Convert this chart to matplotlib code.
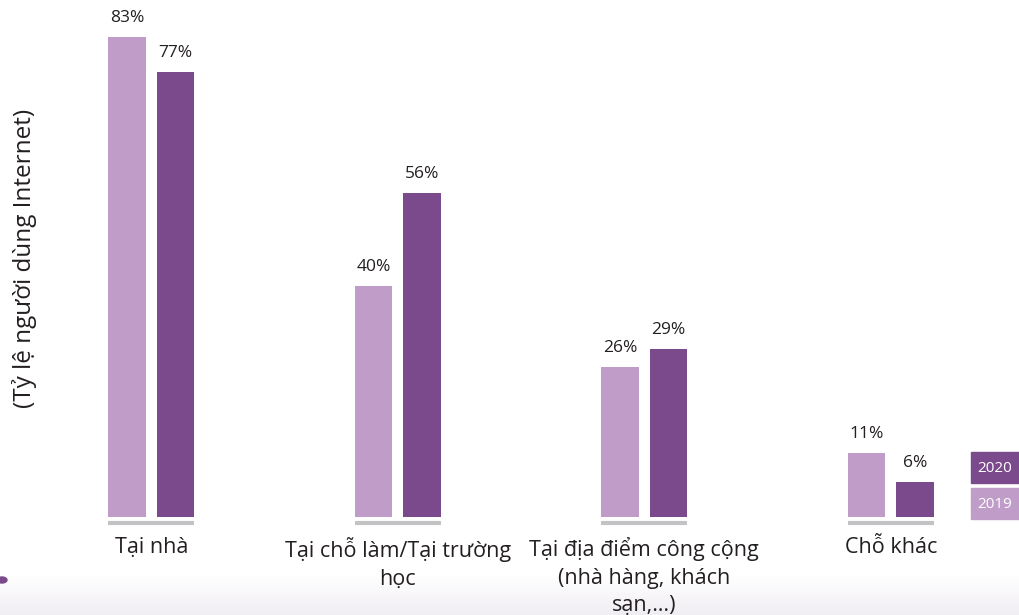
import matplotlib
matplotlib.use("Agg")
import matplotlib.pyplot as plt
import numpy as np
from matplotlib.patches import Rectangle, Circle
from matplotlib.colors import LinearSegmentedColormap

plt.rcParams['font.family'] = ['Open Sans', 'DejaVu Sans']

categories = ["Tại nhà", "Tại chỗ làm/Tại trường\nhọc",
              "Tại địa điểm công cộng\n(nhà hàng, khách\nsạn,…)", "Chỗ khác"]
series_names = ["2019", "2020"]
values_2019 = [83, 40, 26, 11]
values_2020 = [77, 56, 29, 6]
c2019 = "#c09dc9"
c2020 = "#7b4a8c"
text_c = "#231f20"

W, H = 1019, 615
fig = plt.figure(figsize=(W / 100, H / 100), dpi=100)
fig.patch.set_facecolor("white")

# decorative bottom gradient
bg = fig.add_axes([0, 0, 1, 40 / H], zorder=-5)
grad = np.linspace(0, 1, 50).reshape(-1, 1)
cmap = LinearSegmentedColormap.from_list("g", ["#f1eef3", "#ffffff"])
bg.imshow(grad, aspect="auto", cmap=cmap, origin="lower", extent=[0, 1, 0, 1])
bg.axis("off")

ax = fig.add_axes([28 / W, (H - 517) / H, (1014 - 28) / W, 517 / H])
x = np.arange(len(categories))
bw = 0.152
off = 0.099
b1 = ax.bar(x - off, values_2019, bw, color=c2019)
b2 = ax.bar(x + off, values_2020, bw, color=c2020)
ax.set_xlim(-0.5, 3.5)
ax.set_ylim(0, 89.4)
for s in ax.spines.values():
    s.set_visible(False)
ax.set_xticks([])
ax.set_yticks([])
ax.patch.set_alpha(0)

for bars, vals in ((b1, values_2019), (b2, values_2020)):
    for r, v in zip(bars, vals):
        ax.annotate(f"{v}%", (r.get_x() + r.get_width() / 2, v), xytext=(0, 8),
                    textcoords="offset points", ha="center", va="bottom",
                    fontsize=12.5, color=text_c)

for xi, cat in zip(x, categories):
    ax.plot([xi - off - bw / 2, xi + off + bw / 2], [-1.1, -1.1], color="#c3c3c6",
            lw=3, solid_capstyle="butt", clip_on=False)
    ax.text(xi, -3.5, cat, ha="center", va="top", fontsize=15.5, color=text_c,
            linespacing=1.4)

fig.text(25 / W, 1 - 258 / H, "(Tỷ lệ người dùng Internet)", rotation=90,
         ha="center", va="center", fontsize=17.5, color=text_c)

# legend boxes
for name, col, top in (("2020", c2020, 452), ("2019", c2019, 488)):
    fig.patches.append(Rectangle((971 / W, 1 - (top + 31) / H), 48 / W, 31 / H,
                                 transform=fig.transFigure, color=col))
    fig.text(995 / W, 1 - (top + 16) / H, name, ha="center", va="center",
             fontsize=11, color="white")

# decorative dot
fig.patches.append(Circle((2 / W, 1 - 580 / H), 5 / W, transform=fig.transFigure,
                          color="#7b4a8c"))

fig.savefig("out.png", dpi=100)
